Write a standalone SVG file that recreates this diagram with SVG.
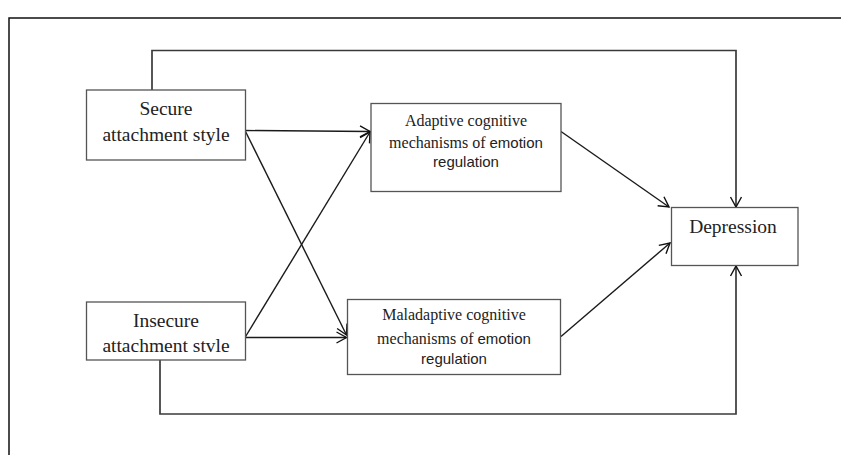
<svg xmlns="http://www.w3.org/2000/svg" width="841" height="455" viewBox="0 0 841 455">
<defs>
<marker id="arr" viewBox="-12 -7 14 14" refX="0" refY="0" markerWidth="14" markerHeight="14" markerUnits="userSpaceOnUse" orient="auto">
<path d="M-10,-5.5 L0,0 L-10,5.5" fill="none" stroke="#111" stroke-width="1.4"/>
</marker>
</defs>
<style>
.box{fill:#fff;stroke:#555;stroke-width:1.3}
.serif{font-family:"Liberation Serif","Times New Roman",serif;fill:#222}
.sans{font-family:"Liberation Sans",Arial,sans-serif;fill:#222}
.ln{fill:none;stroke:#1a1a1a;stroke-width:1.4}
.el{fill:none;stroke:#3a3a3a;stroke-width:1.7}
</style>
<rect x="0" y="0" width="841" height="455" fill="#fff"/>
<path d="M9,460 L9,18 L850,18" fill="none" stroke="#111" stroke-width="1.5"/>
<g id="connectors">
<path class="el" d="M152,90 L152,50.5 L736,50.5 L736,207" marker-end="url(#arr)"/>
<path class="el" d="M160,360 L160,414 L736,414 L736,266" marker-end="url(#arr)"/>
<line class="ln" x1="245" y1="130.5" x2="370" y2="131.5" marker-end="url(#arr)"/>
<line class="ln" x1="245" y1="130.5" x2="346.5" y2="335" marker-end="url(#arr)"/>
<line class="ln" x1="245" y1="337.5" x2="370" y2="132" marker-end="url(#arr)"/>
<line class="ln" x1="245" y1="337.5" x2="346.5" y2="337.5" marker-end="url(#arr)"/>
<line class="ln" x1="561" y1="131.5" x2="669" y2="207" marker-end="url(#arr)"/>
<line class="ln" x1="561" y1="336.5" x2="670" y2="243" marker-end="url(#arr)"/>
</g>
<g id="secure">
<rect class="box" x="86.5" y="90" width="159" height="70"/>
<text class="serif" font-size="19.5" text-anchor="middle"><tspan x="166" y="115">Secure</tspan><tspan x="166" y="141">attachment style</tspan></text>
</g>
<g id="insecure">
<rect class="box" x="86.5" y="302" width="159" height="58"/>
<text class="serif" font-size="19.5" text-anchor="middle"><tspan x="166" y="327">Insecure</tspan><tspan x="166" y="352">attachment stvle</tspan></text>
</g>
<g id="adaptive">
<rect class="box" x="371" y="103.5" width="190" height="88"/>
<text class="serif" font-size="16" text-anchor="middle" x="466" y="126">Adaptive cognitive</text>
<text font-size="16" text-anchor="middle" x="466" y="147.5"><tspan class="serif">mechanisms of </tspan><tspan class="sans" font-size="15">emotion</tspan></text>
<text class="sans" font-size="15" text-anchor="middle" x="466" y="167">regulation</text>
</g>
<g id="maladaptive">
<rect class="box" x="347.5" y="299.5" width="213" height="75"/>
<text class="serif" font-size="16" text-anchor="middle" x="454" y="319.5">Maladaptive cognitive</text>
<text font-size="16" text-anchor="middle" x="454" y="343.5"><tspan class="serif">mechanisms of </tspan><tspan class="sans" font-size="15">emotion</tspan></text>
<text class="sans" font-size="15" text-anchor="middle" x="454" y="363.5">regulation</text>
</g>
<g id="depression">
<rect class="box" x="671.5" y="207.5" width="126.5" height="58"/>
<text class="serif" font-size="19.5" text-anchor="middle" x="733" y="233">Depression</text>
</g>
</svg>
